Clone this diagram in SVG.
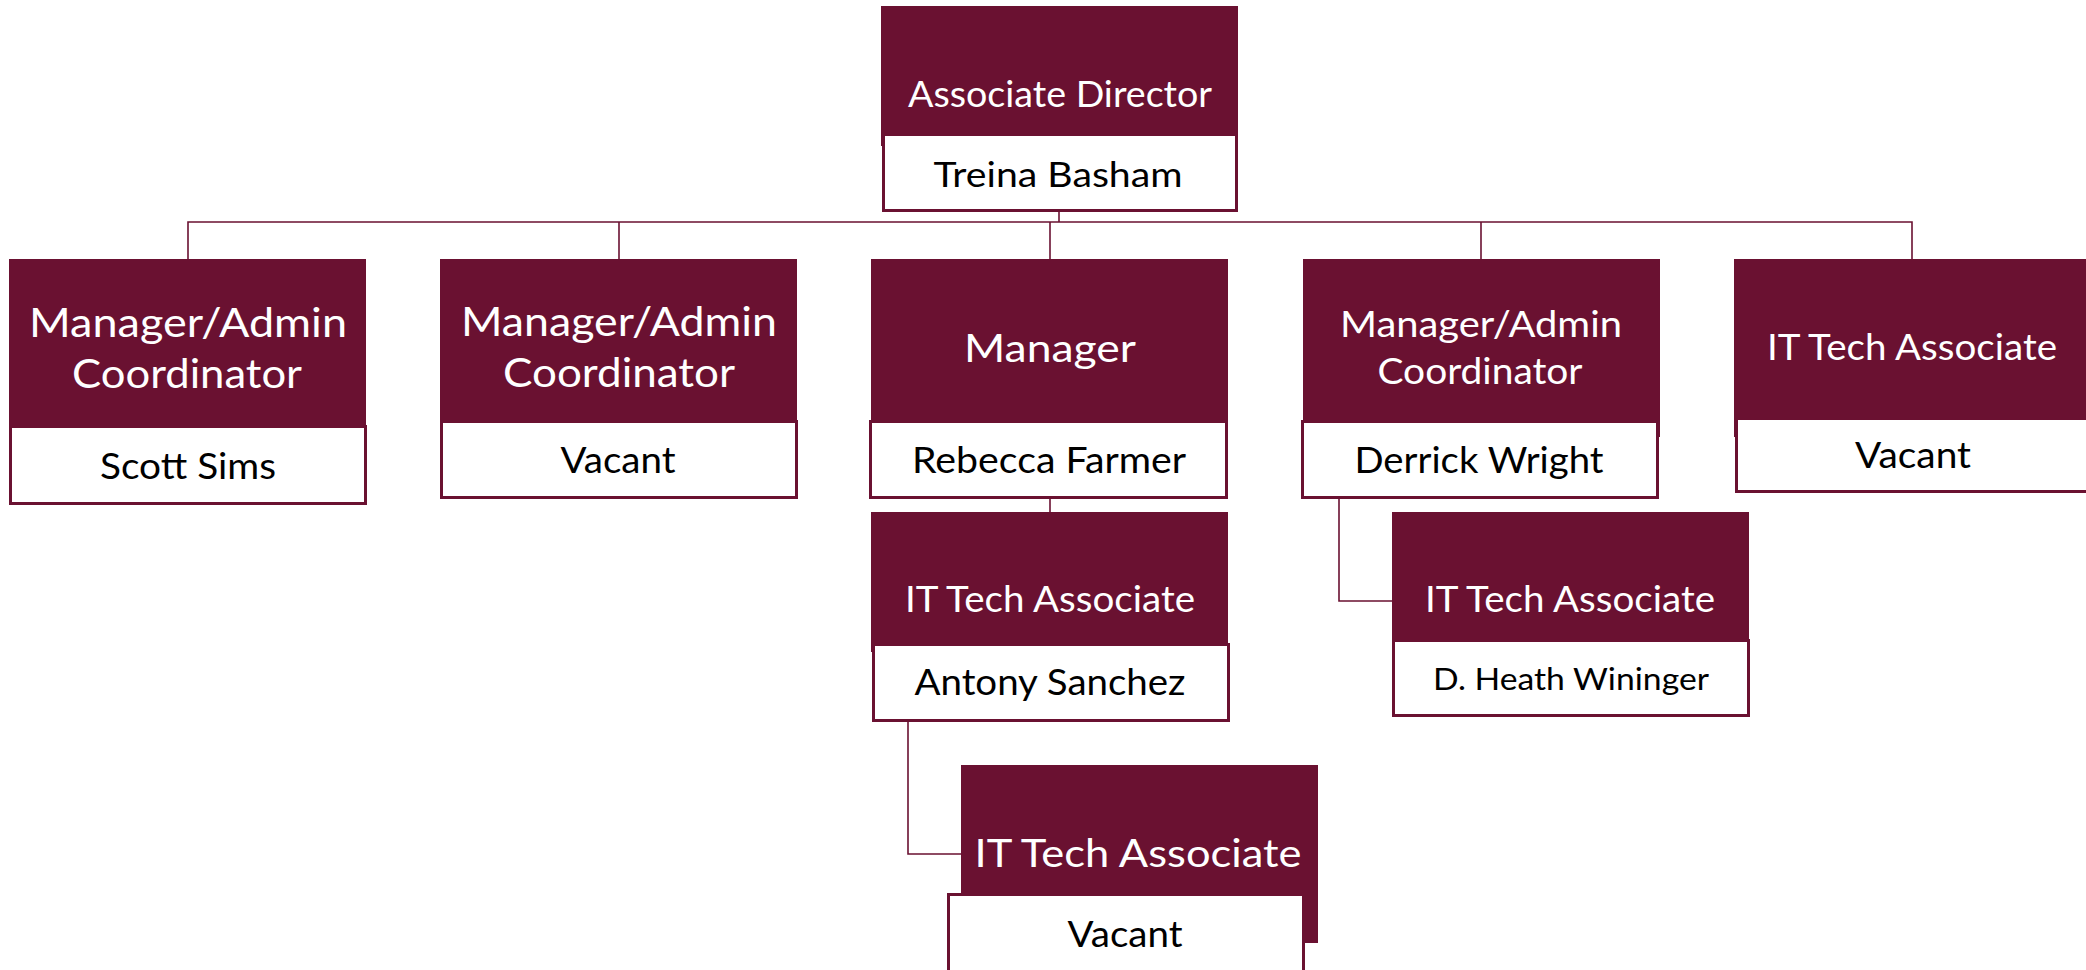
<svg xmlns="http://www.w3.org/2000/svg" width="2086" height="970" viewBox="0 0 2086 970">
<style>
.title{fill:#6a1131}
.name{fill:#ffffff;stroke:#6a1131;stroke-width:3}
.tt{font-family:Lato,"Open Sans","Liberation Sans",sans-serif;fill:#ffffff;text-anchor:middle}
.nt{font-family:Lato,"Open Sans","Liberation Sans",sans-serif;fill:#000000;text-anchor:middle}
.conn{fill:none;stroke:#6a1131;stroke-width:1.6}
</style>
<rect width="2086" height="970" fill="#ffffff"/>
<g id="connectors">
<polyline class="conn" points="1059,212 1059,222"/>
<polyline class="conn" points="188,259 188,222 1912,222 1912,259"/>
<line class="conn" x1="619" y1="222" x2="619" y2="259"/>
<line class="conn" x1="1050" y1="222" x2="1050" y2="259"/>
<line class="conn" x1="1481" y1="222" x2="1481" y2="259"/>
<line class="conn" x1="1050" y1="499" x2="1050" y2="512"/>
<polyline class="conn" points="908,722 908,854 961,854"/>
<polyline class="conn" points="1339,499 1339,601 1392,601"/>
</g>
<g id="node-associate-director">
<rect class="title" x="881" y="6" width="357" height="140"/>
<rect class="name" x="883.5" y="134.5" width="353" height="76"/>
<text class="tt" x="1060" y="107" font-size="37.5" textLength="304" lengthAdjust="spacingAndGlyphs">Associate Director</text>
<text class="nt" x="1058" y="187" font-size="35" textLength="249" lengthAdjust="spacingAndGlyphs">Treina Basham</text>
</g>
<g id="node-scott-sims">
<rect class="title" x="9" y="259" width="357" height="180"/>
<rect class="name" x="10.5" y="426.5" width="355" height="77"/>
<text class="tt" x="188" y="337" font-size="41.5" textLength="318" lengthAdjust="spacingAndGlyphs">Manager/Admin</text>
<text class="tt" x="187" y="388" font-size="41.5" textLength="230" lengthAdjust="spacingAndGlyphs">Coordinator</text>
<text class="nt" x="188" y="479" font-size="36" textLength="176" lengthAdjust="spacingAndGlyphs">Scott Sims</text>
</g>
<g id="node-vacant-admin">
<rect class="title" x="440" y="259" width="357" height="170"/>
<rect class="name" x="441.5" y="421.5" width="355" height="76"/>
<text class="tt" x="619" y="336" font-size="41.5" textLength="316" lengthAdjust="spacingAndGlyphs">Manager/Admin</text>
<text class="tt" x="619" y="387" font-size="41.5" textLength="232" lengthAdjust="spacingAndGlyphs">Coordinator</text>
<text class="nt" x="618" y="473" font-size="36" textLength="115" lengthAdjust="spacingAndGlyphs">Vacant</text>
</g>
<g id="node-rebecca-farmer">
<rect class="title" x="871" y="259" width="357" height="170"/>
<rect class="name" x="870.5" y="421.5" width="356" height="76"/>
<text class="tt" x="1050" y="362" font-size="39" textLength="172" lengthAdjust="spacingAndGlyphs">Manager</text>
<text class="nt" x="1049" y="473" font-size="36" textLength="274" lengthAdjust="spacingAndGlyphs">Rebecca Farmer</text>
</g>
<g id="node-derrick-wright">
<rect class="title" x="1303" y="259" width="357" height="178"/>
<rect class="name" x="1302.5" y="421.5" width="355" height="76"/>
<text class="tt" x="1481" y="337" font-size="37.5" textLength="282" lengthAdjust="spacingAndGlyphs">Manager/Admin</text>
<text class="tt" x="1480" y="384" font-size="37.5" textLength="205" lengthAdjust="spacingAndGlyphs">Coordinator</text>
<text class="nt" x="1479" y="473" font-size="36" textLength="249" lengthAdjust="spacingAndGlyphs">Derrick Wright</text>
</g>
<g id="node-it-vacant">
<rect class="title" x="1734" y="259" width="360" height="178"/>
<rect class="name" x="1736.5" y="418.5" width="360" height="73"/>
<text class="tt" x="1912" y="360" font-size="36" textLength="290" lengthAdjust="spacingAndGlyphs">IT Tech Associate</text>
<text class="nt" x="1913" y="468" font-size="36" textLength="116" lengthAdjust="spacingAndGlyphs">Vacant</text>
</g>
<g id="node-antony-sanchez">
<rect class="title" x="871" y="512" width="357" height="140"/>
<rect class="name" x="873.5" y="644.5" width="355" height="76"/>
<text class="tt" x="1050" y="612" font-size="36" textLength="290" lengthAdjust="spacingAndGlyphs">IT Tech Associate</text>
<text class="nt" x="1050" y="695" font-size="36" textLength="271" lengthAdjust="spacingAndGlyphs">Antony Sanchez</text>
</g>
<g id="node-heath-wininger">
<rect class="title" x="1392" y="512" width="357" height="135"/>
<rect class="name" x="1393.5" y="640.5" width="355" height="75"/>
<text class="tt" x="1570" y="612" font-size="36" textLength="290" lengthAdjust="spacingAndGlyphs">IT Tech Associate</text>
<text class="nt" x="1571" y="690" font-size="31" textLength="276" lengthAdjust="spacingAndGlyphs">D. Heath Wininger</text>
</g>
<g id="node-it-vacant-2">
<rect class="title" x="961" y="765" width="357" height="178"/>
<rect class="name" x="948.5" y="894.5" width="355" height="80"/>
<text class="tt" x="1138" y="867" font-size="39" textLength="327" lengthAdjust="spacingAndGlyphs">IT Tech Associate</text>
<text class="nt" x="1125" y="947" font-size="36" textLength="115" lengthAdjust="spacingAndGlyphs">Vacant</text>
</g>
</svg>
